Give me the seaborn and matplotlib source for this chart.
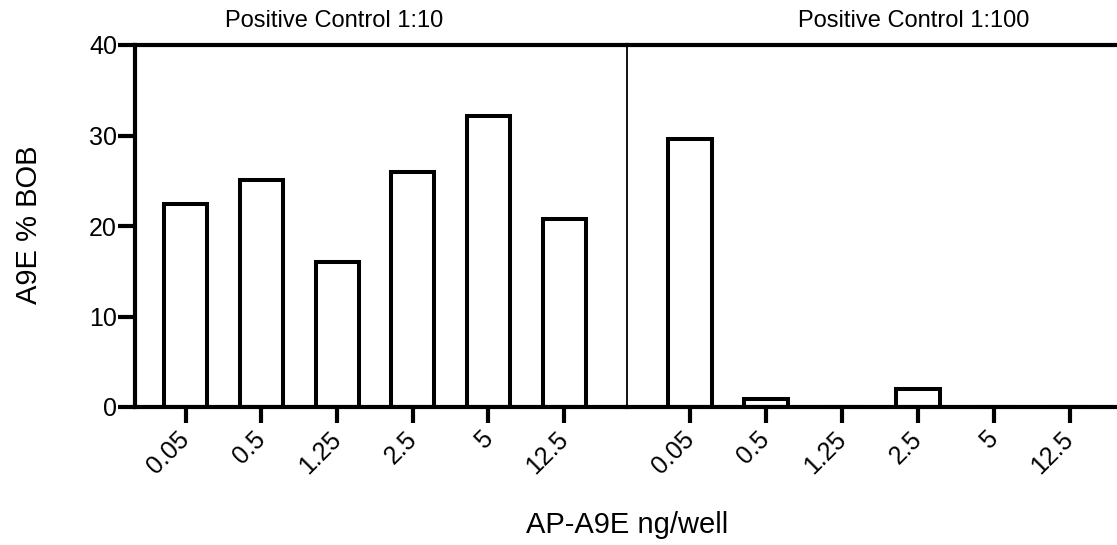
import pandas as pd
import matplotlib.pyplot as plt
import seaborn as sns

doses = ["0.05", "0.5", "1.25", "2.5", "5", "12.5"]
groups = ["Positive Control 1:10", "Positive Control 1:100"]
vals_1_10 = [22.4, 25.1, 16.0, 26.0, 32.1, 20.8]
vals_1_100 = [29.6, 0.9, 0.0, 2.0, 0.0, 0.0]

df = pd.DataFrame({
    "dose": doses * 2,
    "group": [groups[0]] * 6 + [groups[1]] * 6,
    "value": vals_1_10 + vals_1_100,
})

sns.set_style("ticks", {"text.color": "black", "xtick.color": "black",
                        "ytick.color": "black", "axes.edgecolor": "black",
                        "axes.labelcolor": "black"})
plt.rcParams['font.family'] = ['Liberation Sans', 'DejaVu Sans']

W, H = 1117, 545
fig = plt.figure(figsize=(W / 100, H / 100), dpi=100)
ax1 = fig.add_axes([135 / W, 138 / H, 492 / W, 362 / H])
ax2 = fig.add_axes([627 / W, 138 / H, 490 / W, 362 / H], sharey=ax1)

lw = 3.0
for ax, g in zip([ax1, ax2], groups):
    sub = df[df["group"] == g]
    sns.barplot(data=sub, x="dose", y="value", order=doses, color="white",
                saturation=1, edgecolor="black", linewidth=2.9, width=0.57,
                errorbar=None, ax=ax)
    ax.set_xlabel("")
    ax.set_ylabel("")
    for s in ["top", "bottom", "left"]:
        ax.spines[s].set_linewidth(lw)
        ax.spines[s].set_color("black")
    ax.spines["right"].set_visible(False)
    ax.tick_params(axis="x", length=11.5, width=lw, labelsize=18, pad=9,
                   colors="black")
    for lab in ax.get_xticklabels():
        lab.set_rotation(45)
        lab.set_ha("right")
        lab.set_va("center")
        lab.set_rotation_mode("anchor")

ax1.set_xlim(-0.67, 5.83)
ax2.set_xlim(-0.83, 5.62)
ax1.set_ylim(0, 40)
ax1.set_yticks([0, 10, 20, 30, 40])
ax1.tick_params(axis="y", length=12, width=lw, labelsize=18, pad=1, colors="black")
ax2.tick_params(axis="y", left=False, labelleft=False)
ax2.spines["left"].set_linewidth(1.3)

fig.text(334 / W, 1 - 21 / H, groups[0], fontsize=17, ha="center", va="center",
         color="black")
fig.text(914 / W, 1 - 21 / H, groups[1], fontsize=17, ha="center", va="center",
         color="black")
fig.text(627 / W, 1 - 525 / H, "AP-A9E ng/well", fontsize=21, ha="center",
         va="center", color="black")
fig.text(29 / W, 1 - 225 / H, "A9E % BOB", fontsize=21, ha="center", va="center",
         rotation=90, color="black")

fig.savefig("out.png", dpi=100)
